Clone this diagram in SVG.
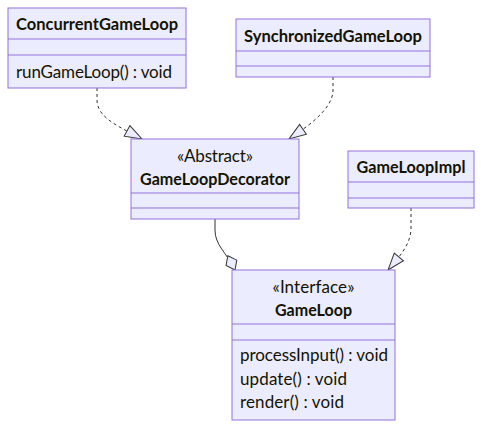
<svg xmlns="http://www.w3.org/2000/svg" width="483" height="428" viewBox="0 0 483 428">
<style>
.box{fill:#ECECFF;stroke:#9370DB;stroke-width:1}
.div{stroke:#9370DB;stroke-width:1}
.t{font-family:Lato,"Open Sans",sans-serif;font-size:17px;fill:#131300}
.b{font-weight:bold;text-anchor:middle}
.c{text-anchor:middle}
.edge{fill:none;stroke:#333;stroke-width:1}
.dash{stroke-dasharray:3 3}
</style>
<defs>
<marker id="tri" viewBox="0 0 20 14" refX="18" refY="7" markerWidth="20" markerHeight="14" markerUnits="userSpaceOnUse" orient="auto">
<path d="M1,1 L1,13 L18,7 Z" fill="#ECECFF" stroke="#333" stroke-width="1"/>
</marker>
<marker id="dia" viewBox="0 0 18 14" refX="17" refY="7" markerWidth="18" markerHeight="14" markerUnits="userSpaceOnUse" orient="auto">
<path d="M1,7 L9,1 L17,7 L9,13 Z" fill="#ECECFF" stroke="#333" stroke-width="1"/>
</marker>
</defs>
<g id="connectors">
<path class="edge dash" d="M97,88 L97,100 C97,118 120,127 142,139" marker-end="url(#tri)"/>
<path class="edge dash" d="M333,77 L333,90 C333,110 305,128 289,139" marker-end="url(#tri)"/>
<path class="edge dash" d="M411,208 L411,228 C411,245 398,258 388,270" marker-end="url(#tri)"/>
<path class="edge" d="M215,219 L215,230 C215,245 226,252 235,270" marker-end="url(#dia)"/>
</g>
<g id="ConcurrentGameLoop">
<rect class="box" x="8" y="8" width="178" height="80"/>
<line class="div" x1="8" y1="39" x2="186" y2="39"/>
<line class="div" x1="8" y1="55" x2="186" y2="55"/>
<text class="t b" x="97" y="30" textLength="162" lengthAdjust="spacingAndGlyphs">ConcurrentGameLoop</text>
<text class="t" x="16" y="78" textLength="156">runGameLoop() : void</text>
</g>
<g id="SynchronizedGameLoop">
<rect class="box" x="236" y="19" width="194" height="58"/>
<line class="div" x1="236" y1="51" x2="430" y2="51"/>
<line class="div" x1="236" y1="66" x2="430" y2="66"/>
<text class="t b" x="333" y="42" textLength="178" lengthAdjust="spacingAndGlyphs">SynchronizedGameLoop</text>
</g>
<g id="GameLoopDecorator">
<rect class="box" x="131" y="139" width="168" height="80"/>
<line class="div" x1="131" y1="193" x2="299" y2="193"/>
<line class="div" x1="131" y1="208" x2="299" y2="208"/>
<text class="t c" x="215" y="162" textLength="76">«Abstract»</text>
<text class="t b" x="215" y="185" textLength="150" lengthAdjust="spacingAndGlyphs">GameLoopDecorator</text>
</g>
<g id="GameLoopImpl">
<rect class="box" x="348" y="151" width="126" height="57"/>
<line class="div" x1="348" y1="182" x2="474" y2="182"/>
<line class="div" x1="348" y1="198" x2="474" y2="198"/>
<text class="t b" x="411" y="173" textLength="109" lengthAdjust="spacingAndGlyphs">GameLoopImpl</text>
</g>
<g id="GameLoop">
<rect class="box" x="232" y="270" width="163" height="150"/>
<line class="div" x1="232" y1="324" x2="395" y2="324"/>
<line class="div" x1="232" y1="340" x2="395" y2="340"/>
<text class="t c" x="313.5" y="293" textLength="82">«Interface»</text>
<text class="t b" x="313.5" y="316" textLength="77" lengthAdjust="spacingAndGlyphs">GameLoop</text>
<text class="t" x="240" y="361" textLength="148">processInput() : void</text>
<text class="t" x="240" y="385" textLength="107">update() : void</text>
<text class="t" x="240" y="408" textLength="104">render() : void</text>
</g>
</svg>
